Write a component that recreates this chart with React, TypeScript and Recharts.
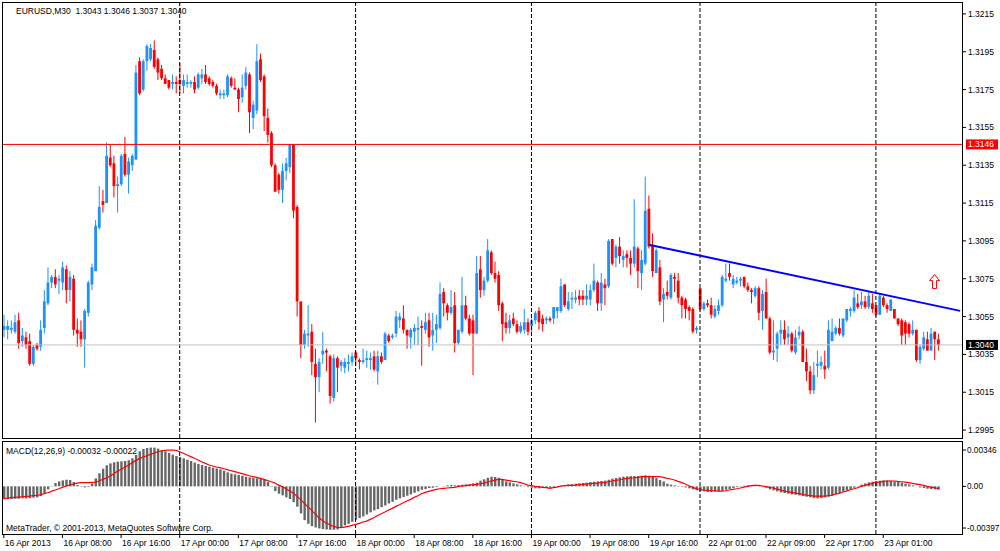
import React from 'react';
import { ComposedChart, Bar, Line, XAxis, YAxis, ReferenceLine, ReferenceDot } from 'recharts';

// ---------- data (EURUSD M30, 16 Apr 2013 00:00 .. 23 Apr 2013 08:30) ----------
const opens = [
  1.3048,1.3048,1.3048,1.3047,1.3053,1.3042,1.3044,1.3042,1.3030,1.3040,
  1.3039,1.3049,1.3062,1.3073,1.3076,1.3074,1.3073,1.3080,1.3069,1.3075,
  1.3048,1.3047,1.3043,1.3057,1.3072,1.3079,1.3102,1.3116,1.3115,1.3139,
  1.3136,1.3124,1.3125,1.3141,1.3130,1.3135,1.3138,1.3190,1.3175,1.3190,
  1.3191,1.3196,1.3191,1.3186,1.3181,1.3180,1.3178,1.3179,1.3180,1.3177,
  1.3178,1.3178,1.3179,1.3176,1.3181,1.3183,1.3181,1.3179,1.3177,1.3172,
  1.3172,1.3172,1.3181,1.3176,1.3175,1.3171,1.3177,1.3183,1.3160,1.3164,
  1.3191,1.3182,1.3160,1.3152,1.3135,1.3130,1.3122,1.3132,1.3134,1.3146,
  1.3113,1.3063,1.3040,1.3045,1.3047,1.3030,1.3023,1.3035,1.3037,1.3034,
  1.3012,1.3033,1.3029,1.3028,1.3030,1.3031,1.3036,1.3032,1.3031,1.3032,
  1.3032,1.3034,1.3026,1.3034,1.3032,1.3045,1.3044,1.3046,1.3053,1.3054,
  1.3048,1.3044,1.3047,1.3048,1.3050,1.3048,1.3053,1.3045,1.3048,1.3049,
  1.3068,1.3061,1.3057,1.3061,1.3041,1.3047,1.3061,1.3054,1.3053,1.3046,
  1.3080,1.3069,1.3074,1.3089,1.3078,1.3077,1.3062,1.3052,1.3049,1.3054,
  1.3051,1.3047,1.3048,1.3052,1.3050,1.3053,1.3058,1.3054,1.3053,1.3054,
  1.3054,1.3058,1.3058,1.3072,1.3059,1.3064,1.3064,1.3066,1.3066,1.3064,
  1.3064,1.3069,1.3073,1.3062,1.3072,1.3071,1.3096,1.3086,1.3092,1.3085,
  1.3088,1.3086,1.3083,1.3091,1.3078,1.3083,1.3112,1.3093,1.3078,1.3081,
  1.3064,1.3068,1.3065,1.3076,1.3074,1.3065,1.3064,1.3060,1.3059,1.3048,
  1.3070,1.3059,1.3062,1.3061,1.3055,1.3058,1.3061,1.3074,1.3078,1.3072,
  1.3073,1.3074,1.3076,1.3071,1.3069,1.3066,1.3070,1.3058,1.3068,1.3054,
  1.3036,1.3038,1.3046,1.3048,1.3044,1.3046,1.3036,1.3045,1.3047,1.3031,
  1.3026,1.3016,1.3029,1.3029,1.3029,1.3028,1.3042,1.3046,1.3049,1.3045,
  1.3053,1.3058,1.3058,1.3062,1.3061,1.3063,1.3060,1.3062,1.3061,1.3056,
  1.3065,1.3061,1.3058,1.3059,1.3054,1.3053,1.3052,1.3051,1.3046,1.3048,
  1.3032,1.3038,1.3043,1.3037,1.3047,1.3043,
];
const highs = [
  1.3056,1.3053,1.3053,1.3056,1.3057,1.3049,1.3047,1.3046,1.3040,1.3041,
  1.3053,1.3069,1.3081,1.3077,1.3080,1.3077,1.3084,1.3082,1.3079,1.3077,
  1.3054,1.3053,1.3059,1.3074,1.3083,1.3106,1.3124,1.3122,1.3147,1.3146,
  1.3140,1.3129,1.3141,1.3150,1.3139,1.3141,1.3188,1.3192,1.3191,1.3199,
  1.3199,1.3201,1.3192,1.3188,1.3183,1.3180,1.3183,1.3182,1.3189,1.3183,
  1.3183,1.3180,1.3182,1.3184,1.3186,1.3188,1.3182,1.3180,1.3178,1.3175,
  1.3175,1.3183,1.3182,1.3181,1.3176,1.3183,1.3187,1.3184,1.3169,1.3199,
  1.3194,1.3183,1.3165,1.3153,1.3136,1.3131,1.3136,1.3139,1.3146,1.3146,
  1.3114,1.3063,1.3048,1.3061,1.3051,1.3038,1.3033,1.3047,1.3038,1.3035,
  1.3035,1.3034,1.3032,1.3033,1.3035,1.3036,1.3037,1.3033,1.3038,1.3037,
  1.3036,1.3037,1.3037,1.3036,1.3047,1.3046,1.3046,1.3058,1.3057,1.3061,
  1.3048,1.3049,1.3051,1.3055,1.3053,1.3057,1.3057,1.3057,1.3056,1.3073,
  1.3070,1.3062,1.3069,1.3068,1.3048,1.3076,1.3066,1.3056,1.3056,1.3087,
  1.3087,1.3076,1.3096,1.3090,1.3084,1.3079,1.3063,1.3057,1.3056,1.3057,
  1.3053,1.3052,1.3059,1.3054,1.3054,1.3058,1.3060,1.3056,1.3055,1.3055,
  1.3060,1.3060,1.3075,1.3072,1.3068,1.3068,1.3069,1.3069,1.3069,1.3072,
  1.3072,1.3083,1.3074,1.3078,1.3075,1.3096,1.3096,1.3093,1.3097,1.3090,
  1.3090,1.3090,1.3117,1.3092,1.3090,1.3129,1.3119,1.3099,1.3091,1.3085,
  1.3070,1.3074,1.3078,1.3078,1.3078,1.3066,1.3065,1.3061,1.3060,1.3050,
  1.3070,1.3063,1.3064,1.3065,1.3061,1.3064,1.3077,1.3083,1.3083,1.3077,
  1.3076,1.3076,1.3076,1.3073,1.3070,1.3071,1.3071,1.3069,1.3075,1.3055,
  1.3053,1.3047,1.3053,1.3053,1.3050,1.3047,1.3048,1.3050,1.3048,1.3038,
  1.3029,1.3031,1.3037,1.3034,1.3037,1.3053,1.3054,1.3050,1.3054,1.3054,
  1.3059,1.3060,1.3069,1.3067,1.3068,1.3066,1.3068,1.3067,1.3061,1.3067,
  1.3066,1.3062,1.3064,1.3059,1.3054,1.3054,1.3053,1.3052,1.3053,1.3048,
  1.3040,1.3047,1.3047,1.3049,1.3047,1.3046,
];
const lows = [
  1.3044,1.3043,1.3046,1.3046,1.3038,1.3039,1.3038,1.3029,1.3029,1.3037,
  1.3037,1.3046,1.3061,1.3070,1.3070,1.3067,1.3069,1.3062,1.3063,1.3045,
  1.3039,1.3039,1.3028,1.3055,1.3069,1.3079,1.3101,1.3110,1.3115,1.3134,
  1.3118,1.3110,1.3124,1.3129,1.3120,1.3132,1.3138,1.3172,1.3174,1.3185,
  1.3190,1.3186,1.3180,1.3180,1.3178,1.3175,1.3175,1.3173,1.3173,1.3173,
  1.3176,1.3176,1.3173,1.3175,1.3178,1.3178,1.3177,1.3176,1.3172,1.3170,
  1.3170,1.3171,1.3176,1.3175,1.3163,1.3168,1.3175,1.3152,1.3154,1.3162,
  1.3179,1.3153,1.3147,1.3134,1.3121,1.3120,1.3115,1.3127,1.3131,1.3107,
  1.3055,1.3033,1.3038,1.3039,1.3024,1.2999,1.3015,1.3030,1.3026,1.3009,
  1.3010,1.3015,1.3026,1.3025,1.3026,1.3029,1.3029,1.3027,1.3030,1.3028,
  1.3027,1.3026,1.3019,1.3030,1.3032,1.3041,1.3043,1.3044,1.3049,1.3046,
  1.3038,1.3038,1.3040,1.3040,1.3029,1.3046,1.3039,1.3037,1.3041,1.3048,
  1.3055,1.3053,1.3056,1.3036,1.3040,1.3046,1.3053,1.3045,1.3024,1.3046,
  1.3065,1.3066,1.3073,1.3077,1.3073,1.3058,1.3042,1.3046,1.3046,1.3050,
  1.3046,1.3046,1.3046,1.3045,1.3047,1.3051,1.3048,1.3047,1.3051,1.3052,
  1.3051,1.3054,1.3057,1.3060,1.3058,1.3059,1.3062,1.3061,1.3061,1.3061,
  1.3061,1.3068,1.3058,1.3058,1.3061,1.3070,1.3082,1.3081,1.3083,1.3081,
  1.3081,1.3077,1.3081,1.3070,1.3069,1.3082,1.3091,1.3076,1.3078,1.3061,
  1.3052,1.3064,1.3064,1.3068,1.3062,1.3054,1.3054,1.3053,1.3046,1.3046,
  1.3058,1.3058,1.3060,1.3054,1.3054,1.3056,1.3060,1.3073,1.3074,1.3070,
  1.3072,1.3071,1.3070,1.3068,1.3062,1.3065,1.3053,1.3048,1.3054,1.3035,
  1.3032,1.3031,1.3040,1.3040,1.3040,1.3036,1.3035,1.3043,1.3031,1.3021,
  1.3014,1.3014,1.3023,1.3027,1.3022,1.3027,1.3042,1.3045,1.3045,1.3044,
  1.3052,1.3055,1.3057,1.3059,1.3059,1.3059,1.3059,1.3057,1.3055,1.3056,
  1.3060,1.3057,1.3058,1.3054,1.3050,1.3040,1.3040,1.3044,1.3045,1.3031,
  1.3030,1.3037,1.3037,1.3037,1.3032,1.3037,
];
const closes = [
  1.3050,1.3050,1.3049,1.3052,1.3041,1.3045,1.3040,1.3030,1.3039,1.3038,
  1.3048,1.3063,1.3073,1.3076,1.3072,1.3075,1.3081,1.3069,1.3076,1.3048,
  1.3046,1.3043,1.3058,1.3073,1.3081,1.3103,1.3113,1.3114,1.3140,1.3135,
  1.3124,1.3125,1.3140,1.3130,1.3137,1.3140,1.3184,1.3173,1.3190,1.3198,
  1.3197,1.3187,1.3184,1.3181,1.3178,1.3176,1.3179,1.3178,1.3178,1.3180,
  1.3179,1.3179,1.3175,1.3183,1.3183,1.3179,1.3178,1.3177,1.3173,1.3173,
  1.3173,1.3182,1.3177,1.3175,1.3170,1.3176,1.3184,1.3163,1.3167,1.3190,
  1.3180,1.3161,1.3151,1.3135,1.3121,1.3122,1.3132,1.3136,1.3146,1.3111,
  1.3063,1.3040,1.3046,1.3046,1.3031,1.3023,1.3031,1.3037,1.3036,1.3013,
  1.3033,1.3028,1.3031,1.3031,1.3031,1.3034,1.3033,1.3031,1.3032,1.3033,
  1.3033,1.3027,1.3034,1.3031,1.3046,1.3042,1.3045,1.3055,1.3055,1.3048,
  1.3045,1.3048,1.3049,1.3049,1.3049,1.3052,1.3044,1.3048,1.3051,1.3067,
  1.3062,1.3057,1.3060,1.3041,1.3048,1.3061,1.3054,1.3046,1.3046,1.3078,
  1.3069,1.3074,1.3090,1.3078,1.3075,1.3061,1.3051,1.3049,1.3053,1.3051,
  1.3047,1.3050,1.3052,1.3047,1.3053,1.3057,1.3052,1.3051,1.3054,1.3053,
  1.3060,1.3060,1.3071,1.3061,1.3063,1.3065,1.3065,1.3064,1.3064,1.3066,
  1.3069,1.3074,1.3062,1.3073,1.3070,1.3095,1.3083,1.3092,1.3087,1.3087,
  1.3086,1.3083,1.3092,1.3079,1.3085,1.3111,1.3092,1.3079,1.3090,1.3063,
  1.3067,1.3066,1.3077,1.3075,1.3065,1.3061,1.3059,1.3058,1.3047,1.3049,
  1.3059,1.3062,1.3061,1.3056,1.3059,1.3061,1.3076,1.3075,1.3076,1.3075,
  1.3074,1.3075,1.3071,1.3069,1.3068,1.3070,1.3057,1.3067,1.3054,1.3036,
  1.3037,1.3046,1.3048,1.3043,1.3046,1.3037,1.3044,1.3047,1.3031,1.3026,
  1.3016,1.3024,1.3030,1.3031,1.3027,1.3048,1.3047,1.3049,1.3046,1.3054,
  1.3059,1.3059,1.3065,1.3060,1.3063,1.3060,1.3066,1.3059,1.3056,1.3066,
  1.3061,1.3059,1.3064,1.3054,1.3051,1.3045,1.3046,1.3046,1.3048,1.3032,
  1.3039,1.3044,1.3037,1.3046,1.3043,1.3040,
];

// MACD(12,26,9) main (histogram) and signal
const macdMain = [
  -0.00124,-0.00121,-0.00121,-0.00118,-0.00118,-0.00115,-0.00115,-0.00112,-0.00108,-0.00105,
  -0.00093,-0.00067,-0.00029,0.00003,0.00031,0.00047,0.00057,0.00063,0.00060,0.00041,
  0.00012,-0.00004,-0.00010,-0.00007,0.00028,0.00076,0.00124,0.00168,0.00200,0.00219,
  0.00229,0.00235,0.00238,0.00241,0.00248,0.00267,0.00299,0.00334,0.00356,0.00365,
  0.00369,0.00369,0.00359,0.00346,0.00334,0.00318,0.00302,0.00289,0.00280,0.00267,
  0.00254,0.00241,0.00226,0.00213,0.00203,0.00194,0.00187,0.00178,0.00171,0.00162,
  0.00149,0.00133,0.00121,0.00114,0.00108,0.00101,0.00092,0.00086,0.00082,0.00076,
  0.00073,0.00067,0.00041,-0.00004,-0.00045,-0.00070,-0.00086,-0.00105,-0.00121,-0.00150,
  -0.00194,-0.00258,-0.00322,-0.00357,-0.00379,-0.00392,-0.00401,-0.00407,-0.00411,-0.00414,
  -0.00414,-0.00411,-0.00388,-0.00372,-0.00357,-0.00337,-0.00318,-0.00302,-0.00287,-0.00268,
  -0.00248,-0.00229,-0.00217,-0.00198,-0.00182,-0.00163,-0.00147,-0.00128,-0.00115,-0.00102,
  -0.00089,-0.00077,-0.00061,-0.00048,-0.00032,-0.00026,-0.00016,-0.00013,-0.00007,0.00000,
  0.00003,0.00009,0.00012,0.00009,0.00012,0.00016,0.00019,0.00019,0.00028,0.00035,
  0.00054,0.00067,0.00082,0.00092,0.00089,0.00082,0.00063,0.00047,0.00038,0.00028,
  0.00019,0.00009,0.00003,-0.00007,-0.00013,-0.00019,-0.00019,-0.00016,-0.00016,-0.00013,
  -0.00007,-0.00004,0.00006,0.00012,0.00019,0.00022,0.00025,0.00028,0.00031,0.00035,
  0.00041,0.00044,0.00047,0.00051,0.00054,0.00063,0.00073,0.00079,0.00086,0.00092,
  0.00095,0.00098,0.00098,0.00098,0.00101,0.00105,0.00101,0.00092,0.00079,0.00060,
  0.00047,0.00025,0.00016,0.00009,0.00003,-0.00004,-0.00010,-0.00019,-0.00029,-0.00038,
  -0.00045,-0.00048,-0.00054,-0.00054,-0.00051,-0.00048,-0.00042,-0.00032,-0.00026,-0.00016,
  -0.00007,0.00003,0.00006,0.00009,0.00009,0.00009,0.00003,-0.00004,-0.00013,-0.00029,
  -0.00038,-0.00048,-0.00057,-0.00064,-0.00070,-0.00077,-0.00080,-0.00086,-0.00093,-0.00099,
  -0.00105,-0.00112,-0.00115,-0.00112,-0.00105,-0.00099,-0.00089,-0.00077,-0.00064,-0.00051,
  -0.00038,-0.00026,-0.00013,0.00003,0.00016,0.00028,0.00038,0.00044,0.00051,0.00054,
  0.00057,0.00057,0.00054,0.00047,0.00041,0.00035,0.00025,0.00019,0.00009,0.00000,
  -0.00010,-0.00016,-0.00023,-0.00026,-0.00029,-0.00032,
];
const macdSignal = [
  -0.00115,-0.00112,-0.00108,-0.00105,-0.00102,-0.00099,-0.00096,-0.00093,-0.00089,-0.00086,
  -0.00080,-0.00070,-0.00061,-0.00048,-0.00035,-0.00023,-0.00010,0.00003,0.00012,0.00022,
  0.00031,0.00035,0.00035,0.00035,0.00038,0.00041,0.00051,0.00066,0.00079,0.00098,
  0.00121,0.00143,0.00162,0.00181,0.00200,0.00225,0.00245,0.00264,0.00280,0.00292,
  0.00305,0.00318,0.00330,0.00337,0.00343,0.00346,0.00346,0.00343,0.00330,0.00315,
  0.00299,0.00283,0.00267,0.00251,0.00235,0.00219,0.00203,0.00194,0.00184,0.00178,
  0.00168,0.00159,0.00149,0.00140,0.00130,0.00121,0.00111,0.00101,0.00092,0.00086,
  0.00076,0.00066,0.00054,0.00044,0.00031,0.00012,-0.00003,-0.00023,-0.00045,-0.00064,
  -0.00096,-0.00127,-0.00162,-0.00194,-0.00229,-0.00264,-0.00299,-0.00328,-0.00350,-0.00366,
  -0.00382,-0.00391,-0.00394,-0.00388,-0.00382,-0.00372,-0.00363,-0.00353,-0.00340,-0.00331,
  -0.00315,-0.00299,-0.00277,-0.00261,-0.00245,-0.00226,-0.00210,-0.00191,-0.00175,-0.00156,
  -0.00140,-0.00124,-0.00105,-0.00089,-0.00070,-0.00058,-0.00048,-0.00038,-0.00029,-0.00023,
  -0.00019,-0.00016,-0.00013,-0.00010,-0.00003,0.00003,0.00006,0.00012,0.00016,0.00019,
  0.00025,0.00031,0.00041,0.00051,0.00060,0.00066,0.00066,0.00060,0.00054,0.00047,
  0.00044,0.00035,0.00025,0.00012,0.00006,0.00000,-0.00003,-0.00010,-0.00013,-0.00019,
  -0.00013,-0.00007,0.00003,0.00006,0.00009,0.00009,0.00012,0.00016,0.00019,0.00022,
  0.00025,0.00028,0.00031,0.00035,0.00038,0.00044,0.00051,0.00057,0.00063,0.00070,
  0.00076,0.00079,0.00082,0.00086,0.00092,0.00092,0.00092,0.00092,0.00092,0.00092,
  0.00086,0.00076,0.00070,0.00060,0.00047,0.00035,0.00022,0.00006,-0.00010,-0.00023,
  -0.00029,-0.00035,-0.00038,-0.00042,-0.00042,-0.00045,-0.00045,-0.00042,-0.00035,-0.00029,
  -0.00023,-0.00016,-0.00007,0.00000,0.00006,0.00009,0.00009,0.00003,-0.00003,-0.00010,
  -0.00016,-0.00026,-0.00035,-0.00045,-0.00051,-0.00058,-0.00064,-0.00070,-0.00077,-0.00083,
  -0.00086,-0.00093,-0.00093,-0.00093,-0.00093,-0.00089,-0.00083,-0.00073,-0.00067,-0.00054,
  -0.00045,-0.00032,-0.00023,-0.00013,0.00000,0.00009,0.00019,0.00028,0.00038,0.00041,
  0.00047,0.00051,0.00051,0.00051,0.00047,0.00044,0.00041,0.00035,0.00028,0.00022,
  0.00016,0.00009,0.00000,-0.00007,-0.00013,-0.00022,
];

const SLOT_COUNT = 262; // bars + empty chart shift on the right
const trendStartIdx = 176;
const trendStartPrice = 1.3093;
const trendEndIdx = 261;
const trendEndPrice = 1.3058;
const arrowIdx = 254;
const arrowPrice = 1.30735;

const resistanceLevel = 1.3146;
const bidLevel = 1.3040;
const daySeparators = [48, 96, 144, 190, 238];

const priceTicks = [1.2995, 1.3015, 1.3035, 1.3055, 1.3075, 1.3095, 1.3115, 1.3135, 1.3155, 1.3175, 1.3195, 1.3215];
const macdTicks = [0.00346, 0, -0.00397];
const timeTickIdx = [0, 16, 32, 48, 64, 80, 96, 112, 128, 144, 160, 176, 192, 208, 224, 240];
const timeTickLabels = [
  '16 Apr 2013', '16 Apr 08:00', '16 Apr 16:00', '17 Apr 00:00', '17 Apr 08:00', '17 Apr 16:00',
  '18 Apr 00:00', '18 Apr 08:00', '18 Apr 16:00', '19 Apr 00:00', '19 Apr 08:00', '19 Apr 16:00',
  '22 Apr 01:00', '22 Apr 09:00', '22 Apr 17:00', '23 Apr 01:00',
];

const titleText = 'EURUSD,M30  1.3043 1.3046 1.3037 1.3040';
const macdTitle = 'MACD(12,26,9) -0.00032 -0.00022';
const copyright = 'MetaTrader, \u00a9 2001-2013, MetaQuotes Software Corp.';

// ---------- build table ----------
const data = Array.from({ length: SLOT_COUNT }, (_, i) => ({
  i,
  o: opens[i],
  h: highs[i],
  l: lows[i],
  c: closes[i],
  macd: macdMain[i],
  signal: macdSignal[i],
  trend: i === trendStartIdx ? trendStartPrice : i === trendEndIdx ? trendEndPrice : null,
}));

// ---------- styles ----------
const FONT = '"Liberation Sans", Arial, sans-serif';
const FS = 8.5;
const BLUE = '#1e90ff';
const RED = '#ff0000';
const BG = '#ffffff';

const Candle = (props: any) => {
  const { x, y, width, height, payload } = props;
  if (!payload || payload.h == null) return null;
  const { o, h, l, c } = payload;
  const top = Math.min(y, y + height);
  const span = Math.abs(height);
  const ppu = h - l > 0 ? span / (h - l) : 0;
  const cx = x + width / 2;
  const bodyTop = top + (h - Math.max(o, c)) * ppu;
  const bodyBot = top + (h - Math.min(o, c)) * ppu;
  const color = c >= o ? BLUE : RED;
  return (
    <g>
      <rect x={cx - 0.5} y={top} width={1} height={Math.max(span, 1)} fill={color} />
      <rect x={cx - 1.4} y={bodyTop} width={2.8} height={Math.max(bodyBot - bodyTop, 1)} fill={color} />
    </g>
  );
};

const makePriceTag = (text: string, bg: string) => (props: any) => {
  const vb = props.viewBox || {};
  const x0 = (vb.x ?? 0) + (vb.width ?? 0) + 4;
  const yc = vb.y ?? 0;
  return (
    <g>
      <rect x={x0} y={yc - 5} width={32} height={10} fill={bg} />
      <text x={x0 + 2} y={yc} dy="0.35em" fontSize={FS} fontFamily={FONT} fill="#ffffff">{text}</text>
    </g>
  );
};

const UpArrow = (props: any) => {
  const { cx, cy } = props;
  if (cx == null || cy == null) return null;
  const pts = [
    [cx, cy - 7], [cx + 5, cy - 1], [cx + 2, cy - 1], [cx + 2, cy + 7],
    [cx - 2, cy + 7], [cx - 2, cy - 1], [cx - 5, cy - 1],
  ].map((p) => p.join(',')).join(' ');
  return <polygon points={pts} fill={BG} stroke={RED} strokeWidth={1} />;
};

const TimeTick = (props: any) => {
  const { x, y, payload } = props;
  const k = timeTickIdx.indexOf(payload.value);
  if (k < 0) return null;
  return (
    <text x={x + 1} y={y} dy="0.71em" textAnchor="start" fontSize={FS} fontFamily={FONT} fill="#000">
      {timeTickLabels[k]}
    </text>
  );
};

const MacdTick = (props: any) => {
  const { x, y, payload } = props;
  const v = payload.value as number;
  const label = v === 0 ? '0.00' : v.toFixed(5);
  return (
    <text x={x - 1} y={y} dy="0.35em" textAnchor="start" fontSize={8.2} fontFamily={FONT} fill="#000">
      {label}
    </text>
  );
};

export default function App() {
  return (
    <div style={{ position: 'absolute', left: 0, top: 0, width: 1000, height: 551, background: BG, overflow: 'hidden' }}>
      <div style={{ position: 'absolute', left: 0, top: 0 }}>
        <ComposedChart width={1000} height={440} data={data} margin={{ top: 2, right: 0, bottom: 2, left: 2 }} barCategoryGap={0}>
          <XAxis dataKey="i" type="category" hide />
          <YAxis
            yAxisId={0}
            orientation="right"
            type="number"
            width={38}
            domain={[1.29908, 1.32213]}
            allowDataOverflow
            ticks={priceTicks}
            interval={0}
            axisLine={false}
            tickLine={{ stroke: '#000' }}
            tickSize={4}
            tickMargin={2}
            tick={{ fontSize: FS, fontFamily: FONT, fill: '#000' }}
            tickFormatter={(v: number) => v.toFixed(4)}
          />
          {daySeparators.map((d) => (
            <ReferenceLine key={d} x={d} stroke="#000" strokeDasharray="4 2" />
          ))}
          <ReferenceLine y={bidLevel} stroke="#c0c0c0" label={makePriceTag(bidLevel.toFixed(4), '#000000')} />
          <ReferenceLine y={resistanceLevel} stroke={RED} label={makePriceTag(resistanceLevel.toFixed(4), RED)} />
          <Bar dataKey={(d: any) => (d.h == null ? null : [d.l, d.h])} shape={Candle} isAnimationActive={false} />
          <Line dataKey="trend" stroke="#0000ff" strokeWidth={2} dot={false} connectNulls isAnimationActive={false} type="linear" />
          <ReferenceDot x={arrowIdx} y={arrowPrice} r={6} shape={UpArrow} />
        </ComposedChart>
      </div>
      <div style={{ position: 'absolute', left: 0, top: 439 }}>
        <ComposedChart width={1000} height={112} data={data} margin={{ top: 2, right: 0, bottom: 0, left: 2 }} barCategoryGap={0}>
          <XAxis
            dataKey="i"
            type="category"
            height={17}
            ticks={timeTickIdx}
            interval={0}
            axisLine={false}
            tickLine={{ stroke: '#000' }}
            tickSize={4}
            tickMargin={2}
            tick={<TimeTick />}
          />
          <YAxis
            orientation="right"
            type="number"
            width={38}
            domain={[-0.00454, 0.00432]}
            allowDataOverflow
            ticks={macdTicks}
            interval={0}
            axisLine={false}
            tickLine={{ stroke: '#000' }}
            tickSize={4}
            tickMargin={2}
            tick={<MacdTick />}
          />
          {daySeparators.map((d) => (
            <ReferenceLine key={d} x={d} stroke="#000" strokeDasharray="4 2" />
          ))}
          <Bar dataKey="macd" fill="#666666" barSize={2.4} isAnimationActive={false} />
          <Line dataKey="signal" stroke={RED} strokeWidth={1.2} dot={false} isAnimationActive={false} type="linear" />
        </ComposedChart>
      </div>
      <div style={{ position: 'absolute', left: 2, top: 2, width: 961, height: 437, border: '1px solid #000', boxSizing: 'border-box', pointerEvents: 'none' }} />
      <div style={{ position: 'absolute', left: 2, top: 441, width: 961, height: 94, border: '1px solid #000', boxSizing: 'border-box', pointerEvents: 'none' }} />
      <svg width={1000} height={551} style={{ position: 'absolute', left: 0, top: 0, pointerEvents: 'none' }}>
        <text x={16} y={13.5} fontSize={FS} fontFamily={FONT} fill="#000" style={{ whiteSpace: 'pre' }}>{titleText}</text>
        <text x={6} y={453.5} fontSize={FS} fontFamily={FONT} fill="#000" style={{ whiteSpace: 'pre' }}>{macdTitle}</text>
        <text x={6} y={530.5} fontSize={FS} fontFamily={FONT} fill="#000" style={{ whiteSpace: 'pre' }}>{copyright}</text>
      </svg>
    </div>
  );
}
